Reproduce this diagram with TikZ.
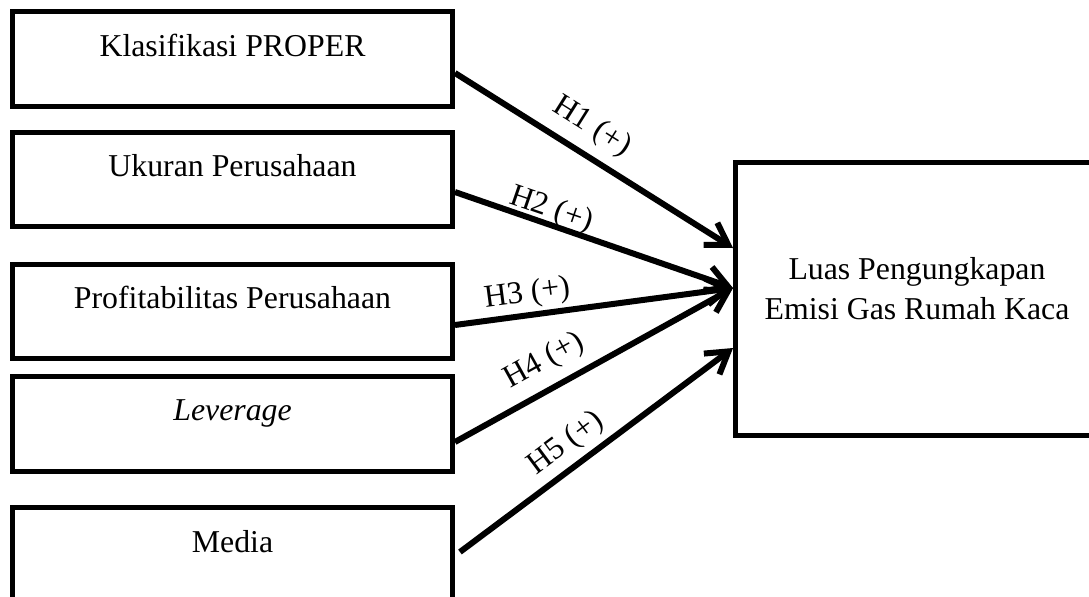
\documentclass[tikz,border=0pt]{standalone}
\usepackage{fontspec}
\setmainfont{Liberation Serif}
\usetikzlibrary{arrows.meta,calc}

\begin{document}
\begin{tikzpicture}[x=0.02cm,y=-0.02cm,
    font=\fontsize{18.1pt}{22.8pt}\selectfont,
    var/.style={draw,line width=0.1cm,minimum width=8.8cm,minimum height=1.9cm,
      text height=0.3cm,text depth=0.42cm},
    hyp/.style={line width=0.12cm,-{Straight Barb[length=0.42cm,width=0.52cm]}}]
    \path[use as bounding box,clip] (0,0) rectangle (1089,596);
    \node[var] (proper) at (232.5,59) {Klasifikasi PROPER};
    \node[var] (ukuran) at (232.5,179.5) {Ukuran Perusahaan};
    \node[var] (profit) at (232.5,311.5) {Profitabilitas Perusahaan};
    \node[var] (lev) at (232.5,423.5) {\textit{Leverage}};
    \node[var] (media) at (232.5,555) {Media};
    \node[draw,line width=0.1cm,minimum width=7.26cm,minimum height=5.46cm,
      align=center,text depth=0.44cm] (luas) at (917,299)
      {Luas Pengungkapan\\Emisi Gas Rumah Kaca};
    \draw[hyp] ($(proper.east)+(0,14)$) -- ($(luas.west)+(0,-51)$)
      node[pos=0.44,sloped,above=0.08cm] (h1) {H1 (+)};
    \draw[hyp] ($(ukuran.east)+(0,12.5)$) -- ($(luas.west)+(0,-11)$)
      node[pos=0.33,sloped,above=-0.18cm] (h2) {H2 (+)};
    \draw[hyp] ($(profit.east)+(0,13.5)$) -- ($(luas.west)+(0,-11)$)
      node[pos=0.27,sloped,above=-0.04cm] (h3) {H3 (+)};
    \draw[hyp] ($(lev.east)+(0,18.5)$) -- ($(luas.west)+(0,-11)$)
      node[pos=0.37,sloped,above=0.08cm] (h4) {H4 (+)};
    \draw[hyp] ($(media.east)+(5,-3)$) -- ($(luas.west)+(0,49)$)
      node[pos=0.44,sloped,above] (h5) {H5 (+)};
\end{tikzpicture}
\end{document}
